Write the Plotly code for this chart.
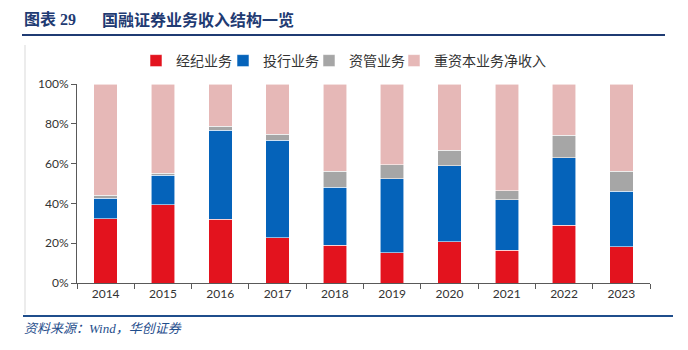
import plotly.graph_objects as go

years = ["2014", "2015", "2016", "2017", "2018", "2019", "2020", "2021", "2022", "2023"]
brokerage = [32.2, 39.3, 32.0, 22.8, 19.0, 15.3, 20.8, 16.5, 29.0, 18.3]
ib = [10.3, 14.9, 44.7, 48.9, 29.0, 37.0, 38.0, 25.3, 34.0, 27.7]
am = [1.7, 1.0, 2.0, 3.1, 8.2, 7.0, 8.0, 4.5, 11.3, 10.2]
heavy = [round(100 - a - b - c, 1) for a, b, c in zip(brokerage, ib, am)]

names = ["经纪业务", "投行业务", "资管业务", "重资本业务净收入"]
colors = ["#E3131E", "#0563BA", "#A6A6A6", "#E6B8B7"]
series = [brokerage, ib, am, heavy]
legend_ids = ["legend", "legend2", "legend3", "legend4"]
legend_px = [148, 235, 321, 406]  # approximate left pixel of each legend entry

fig = go.Figure()
for n, c, s, lg in zip(names, colors, series, legend_ids):
    fig.add_trace(go.Bar(
        x=years, y=[v / 100 for v in s], name=n, legend=lg,
        marker=dict(color=c, line=dict(color="rgba(255,255,255,0.7)", width=0.8)),
    ))

cjk = "Noto Sans CJK SC, sans-serif"
W = 573.0
H = 199.0
legend_cfg = {}
for lg, px in zip(legend_ids, legend_px):
    legend_cfg[lg] = dict(orientation="h", x=(px - 12 - 77) / W, xanchor="left",
                          y=1 + (84 - 61) / H, yanchor="middle",
                          font=dict(size=14, color="#333333", family=cjk),
                          itemwidth=30, bgcolor="rgba(0,0,0,0)")

fig.update_layout(
    barmode="stack",
    bargap=0.59,
    autosize=False, width=688, height=350,
    margin=dict(l=77, r=38, t=84, b=67),
    paper_bgcolor="white", plot_bgcolor="white",
    font=dict(family=cjk, size=12, color="#333333"),
    showlegend=True,
    xaxis=dict(type="category", showline=True, linecolor="#595959", linewidth=1,
               ticks="outside", tickson="boundaries", ticklen=5, tickcolor="#595959",
               showgrid=False, tickfont=dict(size=12, color="#333333", family="Lato, " + cjk)),
    yaxis=dict(range=[0, 1], dtick=0.2, tickformat=".0%", showline=True,
               linecolor="#595959", linewidth=1, ticks="outside", ticklen=5,
               tickcolor="#595959", showgrid=False, zeroline=False,
               tickfont=dict(size=12, color="#333333", family="Lato, " + cjk)),
    **legend_cfg,
)

title_font = dict(family="Liberation Serif, " + cjk, size=16, color="#1F3B73")
fig.add_annotation(xref="paper", yref="paper", x=(22 - 77) / W, y=1 + (84 - 20) / H,
                   xanchor="left", yanchor="middle", showarrow=False,
                   text="<b>图表 29</b>", font=title_font)
fig.add_annotation(xref="paper", yref="paper", x=(100 - 77) / W, y=1 + (84 - 20) / H,
                   xanchor="left", yanchor="middle", showarrow=False,
                   text="<b>国融证券业务收入结构一览</b>", font=title_font)
# lines
fig.add_shape(type="line", xref="paper", yref="paper",
              x0=(22 - 77) / W, x1=(665 - 77) / W, y0=1 + (84 - 35) / H, y1=1 + (84 - 35) / H,
              line=dict(color="#1F3B73", width=2))
fig.add_shape(type="line", xref="paper", yref="paper",
              x0=(23 - 77) / W, x1=(673 - 77) / W, y0=-(316 - 283) / H, y1=-(316 - 283) / H,
              line=dict(color="#1F4E8C", width=2))
fig.add_shape(type="line", xref="paper", yref="paper",
              x0=(25 - 77) / W, x1=(25 - 77) / W, y0=-(314 - 283) / H, y1=1 + (84 - 45) / H,
              line=dict(color="#D9D9D9", width=1))
# source
fig.add_annotation(xref="paper", yref="paper", x=(22 - 77) / W, y=-(328 - 283) / H,
                   xanchor="left", yanchor="middle", showarrow=False,
                   text="<i>资料来源：Wind，华创证券</i>",
                   font=dict(family="Liberation Serif, " + cjk, size=13, color="#1F4E8C"))

fig.write_html("out.html")
